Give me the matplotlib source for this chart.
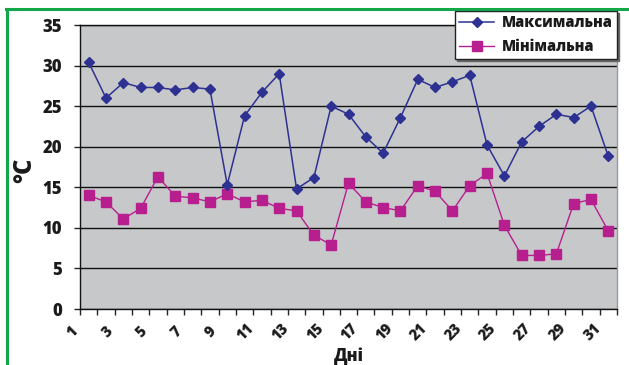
import matplotlib
matplotlib.use("Agg")
import matplotlib.pyplot as plt
from matplotlib.lines import Line2D
from matplotlib.transforms import ScaledTranslation

# Daily air temperature over a month
days = list(range(1, 32))
t_max = [30.4, 26.0, 27.9, 27.3, 27.3, 27.0, 27.3, 27.1, 15.3, 23.8,
         26.7, 29.0, 14.8, 16.2, 25.0, 24.0, 21.2, 19.2, 23.6, 28.3,
         27.3, 28.0, 28.8, 20.2, 16.4, 20.6, 22.5, 24.0, 23.6, 25.0, 18.8]
t_min = [14.0, 13.2, 11.1, 12.4, 16.3, 13.9, 13.7, 13.2, 14.2, 13.2,
         13.4, 12.4, 12.1, 9.1, 7.9, 15.5, 13.2, 12.5, 12.1, 15.2,
         14.5, 12.1, 15.2, 16.7, 10.3, 6.6, 6.6, 6.8, 13.0, 13.5, 9.6]
x_labels = [str(d) for d in range(1, 32, 2)]
y_ticks = [0, 5, 10, 15, 20, 25, 30, 35]
series_names = ["Максимальна", "Мінімальна"]

BLUE = "#2d3192"
MAGENTA = "#b71f8f"
GREEN = "#12a84a"
HEAVY = 800

plt.rcParams["font.family"] = ["Open Sans", "DejaVu Sans"]
plt.rcParams["font.weight"] = HEAVY

fig = plt.figure(figsize=(6.29, 3.65), dpi=100)
fig.patch.set_facecolor("white")
ax = fig.add_axes([80 / 629, 1 - 309 / 365, 537 / 629, 284 / 365])
ax.set_facecolor("#c7c8ca")

ax.plot(days, t_max, color=BLUE, lw=1.1, marker="D", ms=5.4,
        mec=BLUE, mfc=BLUE, zorder=4)
ax.plot(days, t_min, color=MAGENTA, lw=1.0, marker="s", ms=7.8,
        mec=MAGENTA, mfc=MAGENTA, zorder=3)

ax.set_xlim(0.5, 31.5)
ax.set_ylim(0, 35)
ax.set_yticks(y_ticks)
ax.set_yticklabels([str(v) for v in y_ticks], fontsize=12, fontweight=HEAVY,
                   color="#1a1a1a")
ax.yaxis.grid(True, color="#111111", lw=1.0)
ax.set_axisbelow(True)
ax.tick_params(axis="y", length=4, width=1, pad=9, colors="#222222")
for lab in ax.get_yticklabels():
    lab.set_color("#1a1a1a")

ax.set_xticks(range(1, 32, 2))
ax.set_xticklabels(x_labels, fontsize=10.5, fontweight=HEAVY, rotation=45,
                   ha="center", va="center", rotation_mode="anchor",
                   color="#1a1a1a")
ax.set_xticks([i + 0.5 for i in range(0, 32)], minor=True)
ax.tick_params(axis="x", which="major", length=0, pad=17)
ax.tick_params(axis="x", which="minor", length=4, width=1, color="#222222")
shift = ScaledTranslation(-0.16, 0, fig.dpi_scale_trans)
for lab in ax.get_xticklabels():
    lab.set_transform(lab.get_transform() + shift)

for side in ("left", "bottom", "top"):
    ax.spines[side].set_color("#111111")
    ax.spines[side].set_linewidth(1.0)
ax.spines["right"].set_color("#9a9a9a")
ax.spines["right"].set_linewidth(1.0)

ax.set_xlabel("Дні", fontsize=12, fontweight=HEAVY, labelpad=2, color="#1a1a1a")
fig.text(25 / 629, 1 - 170 / 365, "°C", rotation=90, fontsize=17,
         fontweight=HEAVY, ha="center", va="center", color="#1a1a1a")

handles = [
    Line2D([], [], color=BLUE, lw=1.1, marker="D", ms=5.4),
    Line2D([], [], color=MAGENTA, lw=1.0, marker="s", ms=7.8),
]
leg = fig.legend(handles, series_names, loc="upper right",
                 bbox_to_anchor=(617 / 629, 1 - 11 / 365),
                 frameon=True, fancybox=False,
                 shadow={"ox": 1.2, "oy": -1.2, "color": "#666666", "alpha": 1},
                 prop={"size": 10.5, "weight": HEAVY},
                 handlelength=2.4, handletextpad=0.5, borderpad=0.3,
                 labelspacing=0.5, borderaxespad=0)
leg.get_frame().set_edgecolor("#222222")
leg.get_frame().set_linewidth(1.0)
leg.get_frame().set_facecolor("white")
leg.get_frame().set_alpha(1)
leg.set_zorder(10)
for t in leg.get_texts():
    t.set_color("#1a1a1a")

# green frame along the top and left edges
fig.add_artist(Line2D([6 / 629, 1], [1 - 9 / 365, 1 - 9 / 365],
                      transform=fig.transFigure, color=GREEN, lw=2.2, zorder=20))
fig.add_artist(Line2D([7 / 629, 7 / 629], [0, 1 - 9 / 365],
                      transform=fig.transFigure, color=GREEN, lw=2.2, zorder=20))

fig.savefig("out.png", dpi=100)
